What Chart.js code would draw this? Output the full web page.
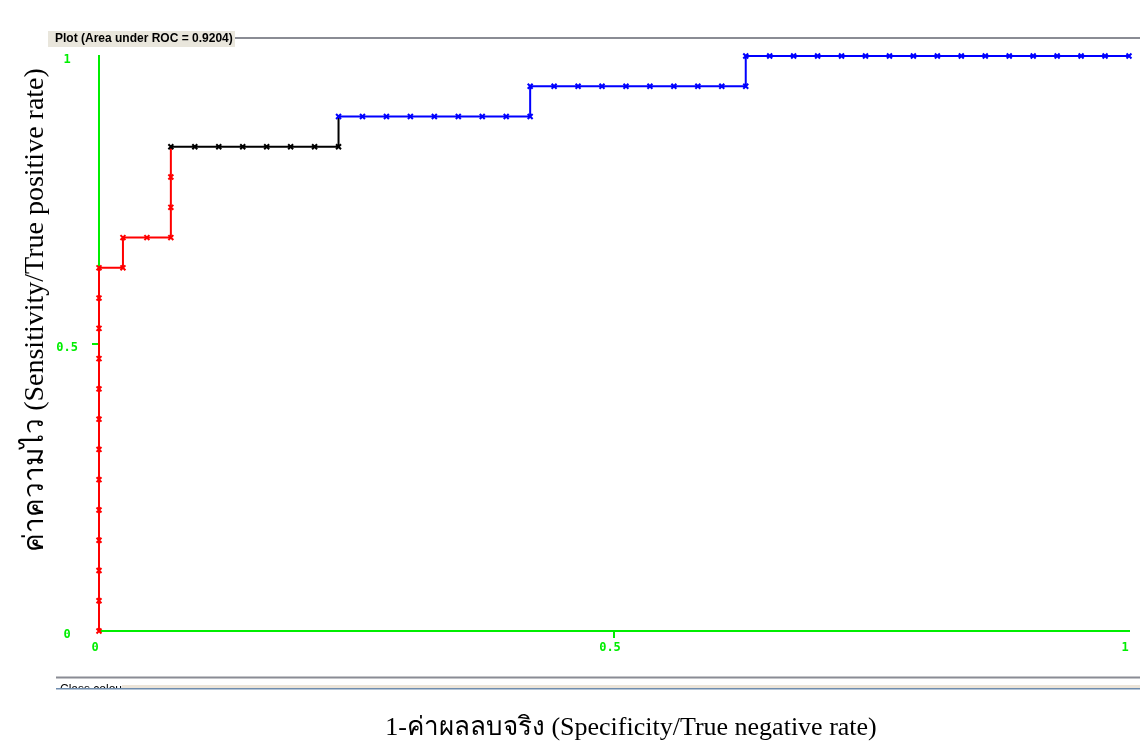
<!DOCTYPE html>
<html>
<head>
<meta charset="utf-8">
<title>ROC curve</title>
<script src="https://cdn.jsdelivr.net/npm/chart.js@4.4.1/dist/chart.umd.min.js"></script>
<style>
  html, body { margin: 0; padding: 0; background: #fff; }
  #wrap { width: 1140px; height: 751px; position: relative; }
</style>
</head>
<body>
<div id="wrap"><canvas id="rocChart"></canvas></div>
<script>
// Totals behind the curve (step sizes)
const negativeTotal = 43;
const positiveTotal = 19;

// False positive count at each threshold point
const fpCounts = [
  0, 0, 0, 0, 0, 0, 0, 0, 0, 0, 0, 0, 0, 1, 1, 2, 3, 3, 3,
  3, 4, 5, 6, 7, 8, 9, 10,
  10, 11, 12, 13, 14, 15, 16, 17, 18,
  18, 19, 20, 21, 22, 23, 24, 25, 26, 27,
  27, 28, 29, 30, 31, 32, 33, 34, 35, 36, 37, 38, 39, 40, 41, 42, 43
];

// True positive count at each threshold point
const tpCounts = [
  0, 1, 2, 3, 4, 5, 6, 7, 8, 9, 10, 11, 12, 12, 13, 13, 13, 14, 15,
  16, 16, 16, 16, 16, 16, 16, 16,
  17, 17, 17, 17, 17, 17, 17, 17, 17,
  18, 18, 18, 18, 18, 18, 18, 18, 18, 18,
  19, 19, 19, 19, 19, 19, 19, 19, 19, 19, 19, 19, 19, 19, 19, 19, 19
];

// Threshold colour band of each point (0 = low, 1 = mid, 2 = high)
const pointBand = [
  0, 0, 0, 0, 0, 0, 0, 0, 0, 0, 0, 0, 0, 0, 0, 0, 0, 0, 0,
  1, 1, 1, 1, 1, 1, 1, 1,
  2, 2, 2, 2, 2, 2, 2, 2, 2,
  2, 2, 2, 2, 2, 2, 2, 2, 2, 2,
  2, 2, 2, 2, 2, 2, 2, 2, 2, 2, 2, 2, 2, 2, 2, 2, 2
];

const axisTicks = [0, 0.5, 1];
const plotTitle = 'Plot (Area under ROC = 0.9204)';
const xTitle = '1-ค่าผลลบจริง (Specificity/True negative rate)';
const yTitle = 'ค่าความไว (Sensitivity/True positive rate)';
const footerLabel = 'Class colour';

const bandColors = ['#ff0000', '#000000', '#0000ff'];
const axisGreen = '#00ee00';
const frameGrey = '#8a8c94';

const points = fpCounts.map((fp, i) => ({
  x: fp / negativeTotal,
  y: tpCounts[i] / positiveTotal,
}));

// Weka-style frame: titled border, axis titles, footer strip
const wekaFrame = {
  id: 'wekaFrame',
  afterDraw(chart) {
    const ctx = chart.ctx;
    const w = chart.width;
    ctx.save();

    // titled border on top
    ctx.fillStyle = '#e9e6dc';
    ctx.fillRect(48, 31, 187, 16);
    ctx.strokeStyle = frameGrey;
    ctx.lineWidth = 2;
    ctx.beginPath();
    ctx.moveTo(235, 38);
    ctx.lineTo(w, 38);
    ctx.stroke();
    ctx.fillStyle = '#000';
    ctx.font = 'bold 12px "Liberation Sans", "DejaVu Sans", sans-serif';
    ctx.textAlign = 'left';
    ctx.textBaseline = 'middle';
    ctx.fillText(plotTitle, 55, 39);

    // footer border and cut-off legend strip
    ctx.beginPath();
    ctx.moveTo(56, 677.5);
    ctx.lineTo(w, 677.5);
    ctx.stroke();
    ctx.save();
    ctx.beginPath();
    ctx.rect(56, 683, 80, 5);
    ctx.clip();
    ctx.fillStyle = '#000';
    ctx.font = '12px "Liberation Sans", "DejaVu Sans", sans-serif';
    ctx.textBaseline = 'top';
    ctx.fillText(footerLabel, 60, 684);
    ctx.restore();
    ctx.fillStyle = '#ece4d8';
    ctx.fillRect(122, 685, w - 122, 3);
    ctx.fillStyle = '#6e8cae';
    ctx.fillRect(56, 688, w - 56, 1.5);

    // axis titles
    ctx.fillStyle = '#000';
    ctx.font = '26px "Liberation Serif", "DejaVu Serif", serif';
    ctx.textAlign = 'center';
    ctx.textBaseline = 'alphabetic';
    ctx.fillText(xTitle, 631, 735);

    ctx.font = '28px "Liberation Serif", "DejaVu Serif", serif';
    ctx.translate(43, 310);
    ctx.rotate(-Math.PI / 2);
    ctx.fillText(yTitle, 0, 0);

    ctx.restore();
  },
};

const tickFont = { family: '"DejaVu Sans Mono", monospace', size: 12, weight: 'bold' };
const onlyMiddleTick = (c) => (c.tick && c.tick.value === 0.5 ? axisGreen : 'rgba(0,0,0,0)');

new Chart(document.getElementById('rocChart').getContext('2d'), {
  type: 'line',
  data: {
    datasets: [{
      data: points,
      borderWidth: 2,
      tension: 0,
      clip: false,
      pointStyle: 'crossRot',
      pointRadius: 3.5,
      pointBorderWidth: 2,
      pointBorderColor: pointBand.map(b => bandColors[b]),
      pointBackgroundColor: pointBand.map(b => bandColors[b]),
      segment: {
        borderColor: c => bandColors[pointBand[c.p0DataIndex]],
      },
    }],
  },
  options: {
    responsive: true,
    maintainAspectRatio: false,
    animation: false,
    layout: { padding: { top: 56, right: 11, bottom: 0, left: 0 } },
    plugins: {
      legend: { display: false },
      tooltip: { enabled: false },
    },
    scales: {
      x: {
        type: 'linear',
        min: 0,
        max: 1,
        afterFit: s => { s.height = 120; },
        afterBuildTicks: s => { s.ticks = axisTicks.map(v => ({ value: v })); },
        border: { color: axisGreen, width: 2 },
        grid: { drawOnChartArea: false, tickLength: 7, lineWidth: 2, color: onlyMiddleTick },
        ticks: {
          color: axisGreen,
          font: tickFont,
          padding: 3,
          labelOffset: -4,
          maxRotation: 0,
          callback: v => String(v),
        },
      },
      y: {
        type: 'linear',
        min: 0,
        max: 1,
        afterFit: s => { s.width = 99; },
        afterBuildTicks: s => { s.ticks = axisTicks.map(v => ({ value: v })); },
        border: { color: axisGreen, width: 2 },
        grid: { drawOnChartArea: false, tickLength: 7, lineWidth: 2, color: onlyMiddleTick },
        ticks: {
          color: axisGreen,
          font: tickFont,
          padding: 14,
          crossAlign: 'center',
          labelOffset: 4,
          callback: v => String(v),
        },
      },
    },
  },
  plugins: [wekaFrame],
});
</script>
</body>
</html>
